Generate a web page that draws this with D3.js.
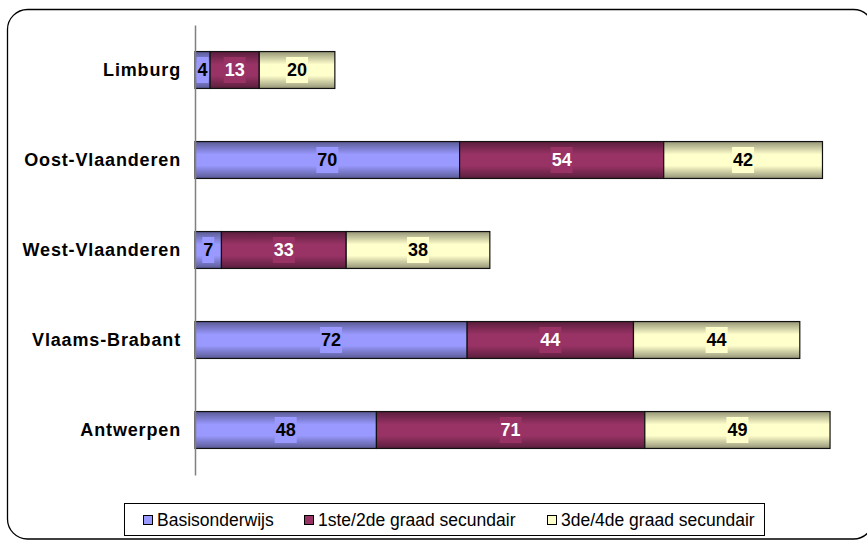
<!DOCTYPE html>
<html>
<head>
<meta charset="utf-8">
<script src="https://cdn.jsdelivr.net/npm/d3@7/dist/d3.min.js"></script>
<style>
html,body{margin:0;padding:0;background:#fff;}
svg{display:block;font-family:"Liberation Sans",Arial,sans-serif;}
</style>
</head>
<body>
<svg id="chart" width="867" height="540"></svg>
<script>
const categories = ["Limburg", "Oost-Vlaanderen", "West-Vlaanderen", "Vlaams-Brabant", "Antwerpen"];
const seriesNames = ["Basisonderwijs", "1ste/2de graad secundair", "3de/4de graad secundair"];
const basisonderwijs = [4, 70, 7, 72, 48];
const graad12 = [13, 54, 33, 44, 71];
const graad34 = [20, 42, 38, 44, 49];
const seriesColors = ["#9999FF", "#993366", "#FFFFCC"];
const labelColors = ["#000000", "#FFFFFF", "#000000"];

const seriesValues = [basisonderwijs, graad12, graad34];
const rows = categories.map((c, i) => {
  const r = {category: c};
  seriesNames.forEach((s, j) => r[s] = seriesValues[j][i]);
  return r;
});

const svg = d3.select("#chart");

// outer rounded frame
svg.append("rect")
  .attr("x", 7.5).attr("y", 9.5)
  .attr("width", 866).attr("height", 529.5)
  .attr("rx", 20).attr("ry", 20)
  .attr("fill", "#fff").attr("stroke", "#000").attr("stroke-width", 1.3);

// gradients
const defs = svg.append("defs");
seriesColors.forEach((col, j) => {
  const g = defs.append("linearGradient").attr("id", "grad" + j)
    .attr("x1", 0).attr("y1", 0).attr("x2", 0).attr("y2", 1);
  const dark = d3.color(col).darker(1.5).formatHex();
  g.append("stop").attr("offset", "0%").attr("stop-color", dark);
  g.append("stop").attr("offset", "35%").attr("stop-color", col);
  g.append("stop").attr("offset", "65%").attr("stop-color", col);
  g.append("stop").attr("offset", "100%").attr("stop-color", dark);
});

const x = d3.scaleLinear().domain([0, 175]).range([195, 856.5]);
const y = d3.scaleBand().domain(categories).range([25, 475])
  .paddingInner(0.59).paddingOuter(0.295);

const stack = d3.stack().keys(seriesNames)(rows);

const layers = svg.append("g").selectAll("g").data(stack).join("g");

layers.selectAll("rect.seg")
  .data(d => d.map(v => ({v, key: d.key, idx: d.index})))
  .join("rect")
  .attr("class", "seg")
  .attr("x", d => x(d.v[0]))
  .attr("y", d => y(d.v.data.category))
  .attr("width", d => x(d.v[1]) - x(d.v[0]))
  .attr("height", y.bandwidth())
  .attr("fill", d => `url(#grad${d.idx})`)
  .attr("stroke", "#111")
  .attr("stroke-width", 1.2);

// value labels
const labelG = svg.append("g");
stack.forEach((layer, j) => {
  layer.forEach(v => {
    const cx = (x(v[0]) + x(v[1])) / 2;
    const cy = y(v.data.category) + y.bandwidth() / 2;
    const val = v[1] - v[0];
    const t = labelG.append("text")
      .attr("x", cx).attr("y", cy)
      .attr("text-anchor", "middle")
      .attr("dominant-baseline", "central")
      .attr("font-size", 18).attr("font-weight", "bold")
      .attr("fill", labelColors[j])
      .text(val);
    const bb = t.node().getBBox();
    labelG.insert("rect", "text")
      .attr("x", bb.x - 1).attr("y", cy - 13)
      .attr("width", bb.width + 2).attr("height", 26)
      .attr("fill", seriesColors[j]);
  });
});
labelG.selectAll("text").raise();

// axis
const axis = svg.append("g").attr("transform", "translate(195,0)")
  .call(d3.axisLeft(y).tickSize(0).tickPadding(14));
axis.select(".domain").attr("stroke", "#808080").attr("stroke-width", 1.5);
axis.selectAll("text")
  .attr("font-family", "Liberation Sans, Arial, sans-serif")
  .attr("font-size", 18).attr("font-weight", "bold")
  .attr("letter-spacing", 0.85)
  .attr("fill", "#000");

// legend
const legend = svg.append("g");
legend.append("rect")
  .attr("x", 124.5).attr("y", 503.5).attr("width", 640).attr("height", 32)
  .attr("fill", "#fff").attr("stroke", "#000").attr("stroke-width", 1);
const legendX = [143, 304, 547];
seriesNames.forEach((s, j) => {
  legend.append("rect")
    .attr("x", legendX[j] + 0.5).attr("y", 515.5).attr("width", 9).attr("height", 9)
    .attr("fill", seriesColors[j]).attr("stroke", "#000").attr("stroke-width", 1);
  legend.append("text")
    .attr("x", legendX[j] + 14).attr("y", 526)
    .attr("font-size", 17.5)
    .attr("fill", "#000")
    .text(s);
});
</script>
</body>
</html>
